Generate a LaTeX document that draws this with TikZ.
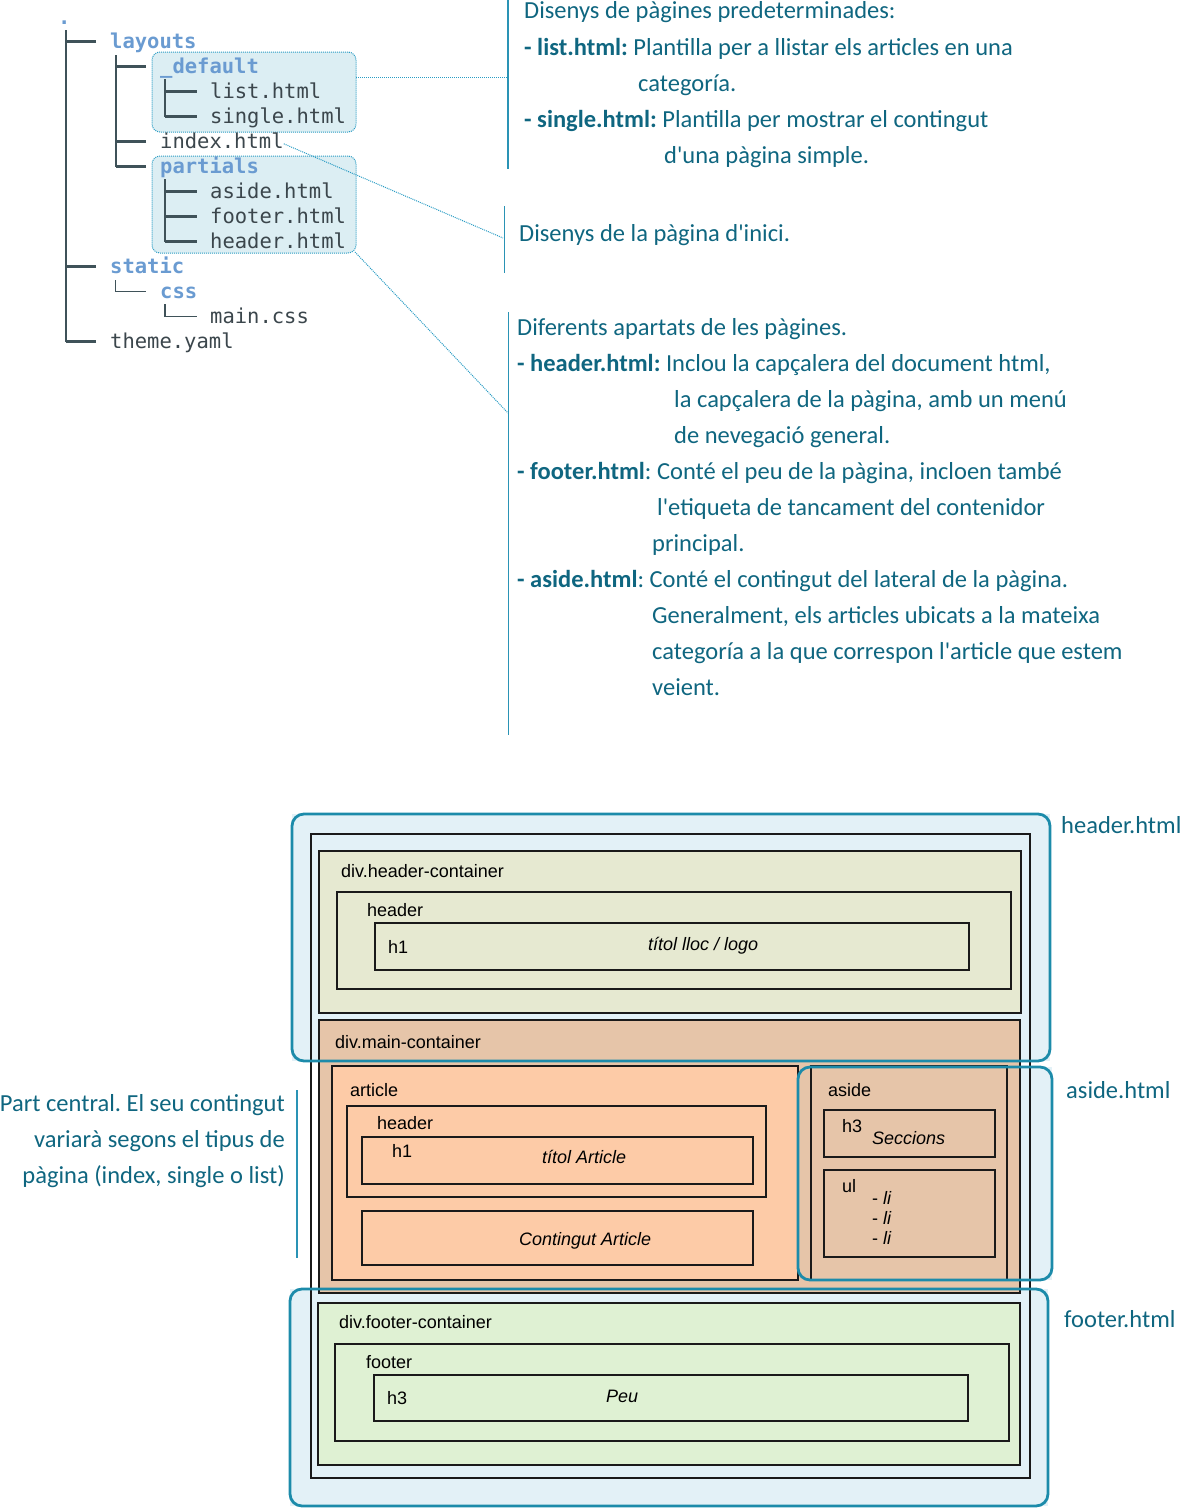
\documentclass[tikz,border=0pt]{standalone}
\usepackage{fontspec}
\setmainfont{Liberation Sans}
\newfontfamily\descfont{Carlito}
\newfontfamily\treefont{DejaVu Sans Mono}
\frenchspacing
\definecolor{desccol}{HTML}{0F6680}
\definecolor{barcol}{HTML}{2A93B5}
\definecolor{dotcol}{HTML}{2A9CC4}
\definecolor{hlfill}{HTML}{DCEEF3}
\definecolor{dircol}{HTML}{6A9BD1}
\definecolor{filecol}{HTML}{3B464C}
\definecolor{treecol}{HTML}{3F5259}
\definecolor{tealline}{HTML}{1C8BAA}
\definecolor{tealfill}{HTML}{E3F1F7}
\definecolor{hcfill}{HTML}{E6E9D1}
\definecolor{mcfill}{HTML}{E6C5A9}
\definecolor{artfill}{HTML}{FDCBA7}
\definecolor{fcfill}{HTML}{DFF1D3}
\definecolor{boxline}{HTML}{1A1A1A}
\begin{document}
\begin{tikzpicture}[x=1pt,y=-1pt,
  desc/.style={font={\descfont\fontsize{24.5}{28}\selectfont}, text=desccol, inner sep=0, anchor=base west},
  descr/.style={desc, anchor=base east},
  treef/.style={font={\treefont\fontsize{20.5}{24}\selectfont}, text=filecol, inner sep=0, anchor=base west},
  treed/.style={font={\treefont\bfseries\fontsize{20.5}{24}\selectfont}, text=dircol, inner sep=0, anchor=base west},
  treeline/.style={draw=treecol, line width=2.2},
  treethin/.style={draw=treecol, line width=1.3},
  hlbox/.style={fill=hlfill, draw=dotcol, densely dotted, line width=1, rounded corners=8, inner sep=0, outer sep=0, anchor=north west},
  dotline/.style={draw=dotcol, densely dotted, line width=1},
  bar/.style={draw=barcol, line width=1.6},
  bx/.style={draw=boxline, line width=1.8, inner sep=0, outer sep=0, anchor=north west},
  tealbx/.style={fill=tealfill, inner sep=0, outer sep=0, anchor=north west},
  tealedge/.style={draw=tealline, line width=2.8, rounded corners=12},
  lbl/.style={font={\fontsize{18}{21}\selectfont}, text=black, inner sep=0, anchor=base west},
  ilbl/.style={lbl, font={\itshape\fontsize{18}{21}\selectfont}}
]
\useasboundingbox (0,0) rectangle (1183,1508);

% ---------------- tree ----------------
\node[hlbox, minimum width=204, minimum height=80] (defbox) at (152,52) {};
\node[hlbox, minimum width=204, minimum height=97] (partbox) at (152,156) {};

\node[treed] (dot) at (58,24) {.};
\node[treed] (layouts) at (110,48.5) {layouts};
\node[treed] (default) at (160,73.5) {\_default};
\node[treef] (list) at (210,98.5) {list.html};
\node[treef] (single) at (210,123.5) {single.html};
\node[treef] (index) at (160,148.5) {index.html};
\node[treed] (partials) at (160,173.5) {partials};
\node[treef] (aside) at (210,198.5) {aside.html};
\node[treef] (footer) at (210,223.5) {footer.html};
\node[treef] (header) at (210,248.5) {header.html};
\node[treed] (static) at (110,273.5) {static};
\node[treed] (css) at (160,298.5) {css};
\node[treef] (maincss) at (210,323.5) {main.css};
\node[treef] (theme) at (110,348.5) {theme.yaml};

\coordinate (tr0) at (65.7,30);
\coordinate (tr1) at (115.7,55);
\coordinate (tr2) at (165,79);
\coordinate (tr3) at (165,179);
\draw[treeline] (tr0) -- ([shift={(-44.3pt,7pt)}]theme.base west);
\foreach \n in {layouts,static,theme}
  \draw[treeline] ([shift={(-14pt,7pt)}]\n.base west) -- ++(-30.3,0);
\draw[treeline] (tr1) -- ([shift={(-44.3pt,7pt)}]partials.base west);
\foreach \n in {default,index,partials}
  \draw[treeline] ([shift={(-14pt,7pt)}]\n.base west) -- ++(-30.3,0);
\draw[treeline] (tr2) -- ([shift={(-45pt,7pt)}]single.base west);
\foreach \n in {list,single}
  \draw[treeline] ([shift={(-13.3pt,7pt)}]\n.base west) -- ++(-31.7,0);
\draw[treeline] (tr3) -- ([shift={(-45pt,7pt)}]header.base west);
\foreach \n in {aside,footer,header}
  \draw[treeline] ([shift={(-13.3pt,7pt)}]\n.base west) -- ++(-31.7,0);
\coordinate (tr4) at (115.7,280);
\coordinate (tr5) at (165,304);
\draw[treethin] (tr4) |- ([shift={(-14pt,7pt)}]css.base west);
\draw[treethin] (tr5) |- ([shift={(-13.3pt,7pt)}]maincss.base west);

% ---------------- bars and connectors ----------------
\coordinate (b1a) at (508,0);    \coordinate (b1b) at (508,169);
\coordinate (b2a) at (504.5,206);\coordinate (b2b) at (504.5,273);
\coordinate (b3a) at (508.5,312);\coordinate (b3b) at (508.5,735);
\coordinate (b4a) at (297,1090); \coordinate (b4b) at (297,1258);
\draw[bar] (b1a) -- (b1b);
\draw[bar] (b2a) -- (b2b);
\draw[bar] (b3a) -- (b3b);
\draw[bar] (b4a) -- (b4b);
\coordinate (c1) at (508,77);
\coordinate (c2) at (503,238);
\coordinate (c3) at (508,413);
\draw[dotline] ([yshift=15pt]defbox.east) -- (c1);
\draw[dotline] ([yshift=-3pt]index.east) -- (c2);
\draw[dotline] ([shift={(-1pt,1pt)}]partbox.south east) -- (c3);

% ---------------- descriptions ----------------
\node[desc] (d11) at (524,18) {Disenys de pàgines predeterminades:};
\node[desc] (d12) at (524,55) {{\bfseries - list.html:} Plantilla per a llistar els articles en una};
\node[desc] (d13) at (638,91) {categoría.};
\node[desc] (d14) at (524,127) {{\bfseries - single.html:} Plantilla per mostrar el contingut};
\node[desc] (d15) at (664,163) {d\textquotesingle una pàgina simple.};

\node[desc] (d21) at (519,241) {Disenys de la pàgina d\textquotesingle inici.};

\node[desc] (d31) at (517,335) {Diferents apartats de les pàgines.};
\node[desc] (d32) at (517,371) {{\bfseries - header.html:} Inclou la capçalera del document html,};
\node[desc] (d33) at (674,407) {la capçalera de la pàgina, amb un menú};
\node[desc] (d34) at (674,443) {de nevegació general.};
\node[desc] (d35) at (517,479) {{\bfseries - footer.html}: Conté el peu de la pàgina, incloen també};
\node[desc] (d36) at (657,515) {l\textquotesingle etiqueta de tancament del contenidor};
\node[desc] (d37) at (652,551) {principal.};
\node[desc] (d38) at (517,587) {{\bfseries - aside.html}: Conté el contingut del lateral de la pàgina.};
\node[desc] (d39) at (652,623) {Generalment, els articles ubicats a la mateixa};
\node[desc] (d3a) at (652,659) {categoría a la que correspon l\textquotesingle article que estem};
\node[desc] (d3b) at (652,695) {veient.};

\node[descr] (l1) at (285,1111) {Part central. El seu contingut};
\node[descr] (l2) at (285,1147) {variarà segons el tipus de};
\node[descr] (l3) at (285,1183) {pàgina (index, single o list)};

\node[desc] (rh) at (1061,833) {header.html};
\node[desc] (ra) at (1066,1098) {aside.html};
\node[desc] (rf) at (1064,1327) {footer.html};

% ---------------- page layout ----------------
\node[tealbx, minimum width=758, minimum height=247] (hhtml) at (292,814) {};
\node[tealbx, minimum width=254, minimum height=213] (ahtml) at (798,1067) {};
\node[tealbx, minimum width=758, minimum height=217] (fhtml) at (290,1289) {};

\node[bx, minimum width=719, minimum height=644] (body) at (311,834) {};

\node[bx, fill=hcfill, minimum width=702, minimum height=162] (hcont) at (319,851) {};
\node[bx, minimum width=674, minimum height=97] (hdr) at (337,892) {};
\node[bx, minimum width=594, minimum height=47] (hh1) at (375,923) {};
\node[lbl] (thc) at (341,877) {div.header-container};
\node[lbl] (thdr) at (367,916) {header};
\node[lbl] (thh1) at (388,953) {h1};
\node[ilbl] (tlogo) at (648,950) {títol lloc / logo};

\node[bx, fill=mcfill, minimum width=701, minimum height=273] (mcont) at (319,1020) {};
\node[lbl] (tmc) at (335,1048) {div.main-container};
\node[bx, fill=artfill, minimum width=466, minimum height=214] (art) at (332,1066) {};
\node[lbl] (tart) at (350,1096) {article};
\node[bx, minimum width=419, minimum height=91] (ahdr) at (347,1106) {};
\node[lbl] (tahdr) at (377,1129) {header};
\node[bx, minimum width=391, minimum height=47] (ah1) at (362,1137) {};
\node[lbl] (tah1) at (392,1157) {h1};
\node[ilbl] (tatit) at (542,1163) {títol Article};
\node[bx, minimum width=391, minimum height=54] (acont) at (362,1211) {};
\node[ilbl] (tacont) at (519,1245) {Contingut Article};

\node[bx, fill=mcfill, minimum width=196, minimum height=214] (asd) at (811,1066) {};
\node[lbl] (tasd) at (828,1096) {aside};
\node[bx, minimum width=171, minimum height=47] (ah3) at (824,1110) {};
\node[lbl] (tah3) at (842,1132) {h3};
\node[ilbl] (tsec) at (872,1144) {Seccions};
\node[bx, minimum width=171, minimum height=87] (aul) at (824,1170) {};
\node[lbl] (taul) at (842,1192) {ul};
\node[lbl] (tli1) at (872,1204) {- \textit{li}};
\node[lbl] (tli2) at (872,1224) {- \textit{li}};
\node[lbl] (tli3) at (872,1244) {- \textit{li}};

\node[bx, fill=fcfill, minimum width=702, minimum height=162] (fcont) at (318,1303) {};
\node[lbl] (tfc) at (339,1328) {div.footer-container};
\node[bx, minimum width=674, minimum height=97] (ftr) at (335,1344) {};
\node[lbl] (tftr) at (366,1368) {footer};
\node[bx, minimum width=594, minimum height=46] (fh3) at (374,1375) {};
\node[lbl] (tfh3) at (387,1404) {h3};
\node[ilbl] (tpeu) at (606,1402) {Peu};

\draw[tealedge] (hhtml.north west) rectangle (hhtml.south east);
\draw[tealedge] (ahtml.north west) rectangle (ahtml.south east);
\draw[tealedge] (fhtml.north west) rectangle (fhtml.south east);
\end{tikzpicture}
\end{document}
